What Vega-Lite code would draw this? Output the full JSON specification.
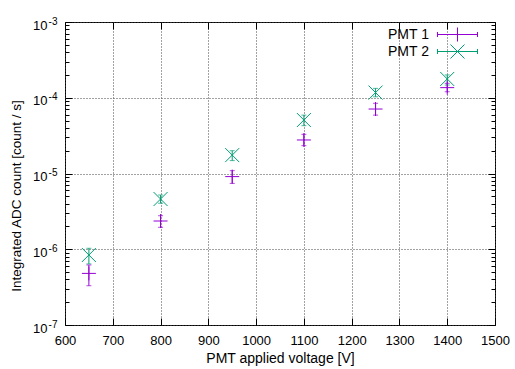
{
  "$schema": "https://vega.github.io/schema/vega-lite/v6.json",
  "width": 430,
  "height": 303,
  "autosize": {"type": "none"},
  "padding": {"left": 65, "top": 22, "right": 20, "bottom": 44},
  "background": "white",
  "data": {
    "values": [
      {"series": "PMT 1", "v": 650, "val": 4.8e-7, "lo": 3.3e-7, "hi": 6.2e-7},
      {"series": "PMT 1", "v": 800, "val": 2.36e-6, "lo": 1.95e-6, "hi": 2.77e-6},
      {"series": "PMT 1", "v": 950, "val": 9.1e-6, "lo": 7.4e-6, "hi": 1.09e-5},
      {"series": "PMT 1", "v": 1100, "val": 2.77e-5, "lo": 2.33e-5, "hi": 3.29e-5},
      {"series": "PMT 1", "v": 1250, "val": 7.1e-5, "lo": 5.9e-5, "hi": 8.45e-5},
      {"series": "PMT 1", "v": 1400, "val": 1.36e-4, "lo": 1.2e-4, "hi": 1.55e-4},
      {"series": "PMT 2", "v": 650, "val": 8.4e-7, "lo": 6.4e-7, "hi": 1.03e-6},
      {"series": "PMT 2", "v": 800, "val": 4.6e-6, "lo": 4.05e-6, "hi": 5.2e-6},
      {"series": "PMT 2", "v": 950, "val": 1.75e-5, "lo": 1.48e-5, "hi": 2.0e-5},
      {"series": "PMT 2", "v": 1100, "val": 5.08e-5, "lo": 4.28e-5, "hi": 5.9e-5},
      {"series": "PMT 2", "v": 1250, "val": 1.17e-4, "lo": 1.03e-4, "hi": 1.33e-4},
      {"series": "PMT 2", "v": 1400, "val": 1.77e-4, "lo": 1.47e-4, "hi": 2.0e-4}
    ]
  },
  "layer": [
    {
      "mark": {"type": "rule", "strokeWidth": 1},
      "encoding": {
        "x": {"field": "v", "type": "quantitative",
          "scale": {"domain": [600, 1500], "nice": false, "zero": false},
          "axis": {"orient": "bottom", "values": [600,700,800,900,1000,1100,1200,1300,1400,1500], "format": "d",
            "grid": true, "gridDash": [1, 2], "gridColor": "#444", "tickSize": -7, "labelPadding": 16,
            "labelFontSize": 13, "title": "PMT applied voltage [V]", "titleFontSize": 14,
            "titleY": 37, "titleBaseline": "alphabetic"}},
        "y": {"field": "lo", "type": "quantitative",
          "scale": {"type": "log", "domain": [1e-7, 1e-3], "nice": false},
          "axis": {"orient": "left", "values": [1e-7, 1e-6, 1e-5, 1e-4, 1e-3],
            "grid": true, "gridDash": [1, 2], "gridColor": "#444", "tickSize": -7,
            "labelExpr": "'10'", "labelPadding": 25, "labelFontSize": 13, "labelBaseline": "alphabetic", "labelOffset": 7,
            "title": "Integrated ADC count [count / s]", "titleFontSize": 13.5, "titleAngle": 270,
            "titleX": -45, "titleY": 173.5, "titleAlign": "center", "titleBaseline": "alphabetic"}},
        "y2": {"field": "hi"},
        "color": {"field": "series", "type": "nominal",
          "scale": {"domain": ["PMT 1", "PMT 2"], "range": ["#9400d3", "#009e73"]}}
      }
    },
    {
      "mark": {"type": "tick", "orient": "horizontal", "size": 5, "thickness": 1},
      "encoding": {
        "x": {"field": "v", "type": "quantitative",
          "axis": {"orient": "top", "values": [600,700,800,900,1000,1100,1200,1300,1400,1500],
            "grid": false, "labels": false, "tickSize": -7, "title": null}},
        "y": {"field": "lo", "type": "quantitative",
          "axis": {"orient": "left", "values": [1e-7, 1e-6, 1e-5, 1e-4, 1e-3], "grid": false, "ticks": false,
            "labelExpr": "'' + round(log(datum.value) / LN10)", "labelFontSize": 10, "labelPadding": 8,
            "labelBaseline": "alphabetic", "labelOffset": 2, "title": null}},
        "color": {"field": "series", "type": "nominal"}
      }
    },
    {
      "mark": {"type": "tick", "orient": "horizontal", "size": 5, "thickness": 1},
      "encoding": {
        "x": {"field": "v", "type": "quantitative", "axis": null},
        "y": {"field": "hi", "type": "quantitative",
          "axis": {"orient": "left", "values": [2e-7,3e-7,4e-7,5e-7,6e-7,7e-7,8e-7,9e-7,2e-6,3e-6,4e-6,5e-6,6e-6,7e-6,8e-6,9e-6,2e-5,3e-5,4e-5,5e-5,6e-5,7e-5,8e-5,9e-5,2e-4,3e-4,4e-4,5e-4,6e-4,7e-4,8e-4,9e-4],
            "grid": false, "labels": false, "tickSize": -4, "title": null}},
        "color": {"field": "series", "type": "nominal"}
      }
    },
    {
      "transform": [{"filter": "datum.series == 'PMT 1'"}],
      "mark": {"type": "point", "shape": "M-1,0L1,0M0,-1L0,1", "filled": false, "size": 196, "strokeWidth": 1, "opacity": 1},
      "encoding": {
        "x": {"field": "v", "type": "quantitative", "axis": null},
        "y": {"field": "val", "type": "quantitative",
          "axis": {"orient": "right", "values": [1e-7, 1e-6, 1e-5, 1e-4, 1e-3], "grid": false, "labels": false, "tickSize": -7, "title": null}},
        "color": {"field": "series", "type": "nominal"}
      }
    },
    {
      "transform": [{"filter": "datum.series == 'PMT 2'"}],
      "mark": {"type": "point", "shape": "M-1,-1L1,1M-1,1L1,-1", "filled": false, "size": 196, "strokeWidth": 1, "opacity": 1},
      "encoding": {
        "x": {"field": "v", "type": "quantitative", "axis": null},
        "y": {"field": "val", "type": "quantitative",
          "axis": {"orient": "right", "values": [2e-7,3e-7,4e-7,5e-7,6e-7,7e-7,8e-7,9e-7,2e-6,3e-6,4e-6,5e-6,6e-6,7e-6,8e-6,9e-6,2e-5,3e-5,4e-5,5e-5,6e-5,7e-5,8e-5,9e-5,2e-4,3e-4,4e-4,5e-4,6e-4,7e-4,8e-4,9e-4],
            "grid": false, "labels": false, "tickSize": -4, "title": null}},
        "color": {"field": "series", "type": "nominal"}
      }
    },
    {
      "transform": [{"filter": "datum.v < 0"}],
      "mark": {"type": "point", "filled": false, "strokeWidth": 1},
      "encoding": {
        "x": {"field": "v", "type": "quantitative", "axis": null},
        "y": {"field": "val", "type": "quantitative", "axis": null},
        "color": {"field": "series", "type": "nominal",
          "legend": {"orient": "none", "legendX": 385, "legendY": 5, "title": null}},
        "shape": {"field": "series", "type": "nominal",
          "scale": {"domain": ["PMT 1", "PMT 2"],
            "range": ["M-2.86,0L2.86,0M-2.86,-0.36L-2.86,0.36M2.86,-0.36L2.86,0.36M0,-1L0,1",
                      "M-2.86,0L2.86,0M-2.86,-0.36L-2.86,0.36M2.86,-0.36L2.86,0.36M-1,-1L1,1M-1,1L1,-1"]},
          "legend": {"orient": "none", "legendX": 385, "legendY": 5, "title": null}}
      }
    }
  ],
  "resolve": {"axis": {"x": "independent", "y": "independent"}},
  "config": {
    "font": "Liberation Sans",
    "view": {"stroke": "#000", "strokeWidth": 1},
    "axis": {"domain": false, "labelFont": "Liberation Sans", "titleFont": "Liberation Sans",
      "labelColor": "#000", "titleColor": "#000", "tickColor": "#000", "tickWidth": 1,
      "titleFontWeight": "normal", "labelFlush": false, "labelOverlap": false},
    "legend": {"labelAlign": "right", "labelOffset": -36, "labelFontSize": 14, "labelFont": "Liberation Sans",
      "labelColor": "#000", "symbolSize": 196, "symbolStrokeWidth": 1, "symbolOpacity": 1, "rowPadding": -13,
      "labelLimit": 0, "symbolFillColor": "transparent"}
  }
}
